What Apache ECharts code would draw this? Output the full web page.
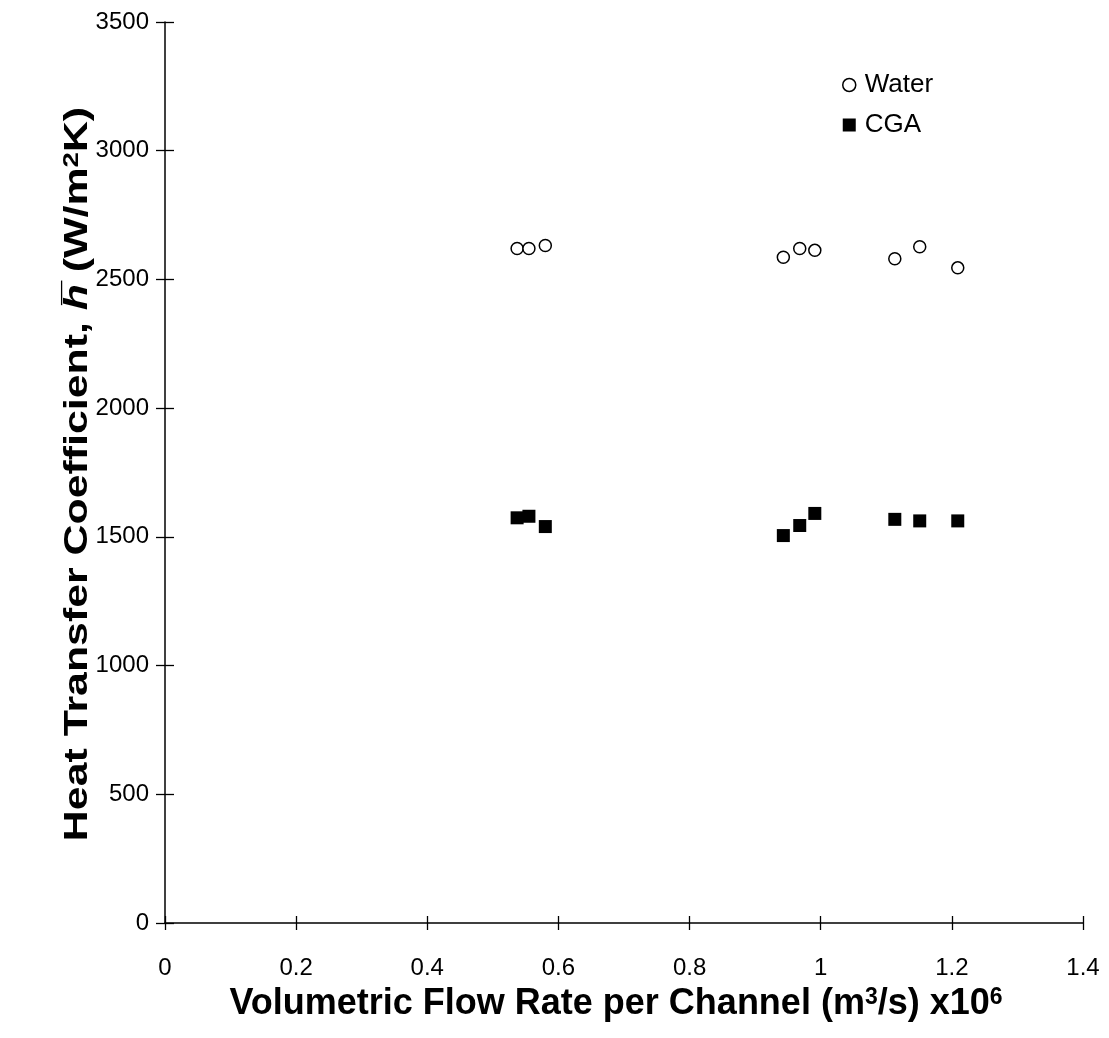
<!DOCTYPE html>
<html>
<head>
<meta charset="utf-8">
<script src="https://cdn.jsdelivr.net/npm/echarts@6/dist/echarts.min.js"></script>
<style>
html,body{margin:0;padding:0;background:#fff;}
#chart{width:1109px;height:1038px;}
</style>
</head>
<body>
<div id="chart"></div>
<script>
// Data
var waterX = [0.537, 0.555, 0.580, 0.943, 0.968, 0.991, 1.113, 1.151, 1.209];
var waterY = [2620, 2620, 2632, 2586, 2620, 2613, 2580, 2627, 2545];
var cgaX   = [0.537, 0.555, 0.580, 0.943, 0.968, 0.991, 1.113, 1.151, 1.209];
var cgaY   = [1574, 1580, 1540, 1505, 1544, 1591, 1568, 1562, 1562];
var seriesNames = ['Water', 'CGA'];
var xTicks = [0, 0.2, 0.4, 0.6, 0.8, 1, 1.2, 1.4];
var yTicks = [0, 500, 1000, 1500, 2000, 2500, 3000, 3500];
var xTitle = 'Volumetric Flow Rate per Channel (m{sup|3}/s) x10{sup|6}';
var yTitle = 'Heat Transfer Coefficient, {h|h\u0305} (W/m{sup|2}K)';

function pairs(xs, ys){ return xs.map(function(x,i){ return [x, ys[i]]; }); }

var FONT = 'Arial, "Liberation Sans", sans-serif';
var chart = echarts.init(document.getElementById('chart'), null, {renderer:'canvas'});

var baseX = {
  type:'value', min:xTicks[0], max:xTicks[xTicks.length-1], interval:0.2,
  splitLine:{show:false}
};
var baseY = {
  type:'value', min:yTicks[0], max:yTicks[yTicks.length-1], interval:500,
  splitLine:{show:false}
};

var option = {
  backgroundColor:'#fff',
  animation:false,
  grid:{left:165, right:26, top:22, bottom:115, containLabel:false},
  legend:{
    orient:'vertical', left:842, top:72, itemGap:14, padding:0,
    itemWidth:13, itemHeight:13,
    textStyle:{fontFamily:FONT, fontSize:26, color:'#000', padding:[0,0,0,4]},
    data:[{name:seriesNames[0], icon:'circle', itemStyle:{color:'#fff', borderColor:'#000', borderWidth:1.5, opacity:1}},
          {name:seriesNames[1], icon:'rect', itemStyle:{color:'#000', opacity:1}}]
  },
  graphic:[{
    type:'text', x:78, y:474, rotation:Math.PI/2, scaleX:1.26, scaleY:1,
    style:{
      text:yTitle, font:'bold 34px ' + FONT, fill:'#000',
      align:'center', verticalAlign:'middle',
      rich:{
        sup:{fontFamily:FONT, fontSize:22, fontWeight:'bold', fill:'#000', verticalAlign:'top', lineHeight:16},
        h:{fontFamily:FONT, fontSize:34, fontWeight:'bold', fontStyle:'italic', fill:'#000'}
      }
    }
  }],
  xAxis:[
    Object.assign({}, baseX, {
      position:'bottom',
      axisLine:{lineStyle:{color:'#000', width:1.5}},
      axisTick:{inside:false, length:7, lineStyle:{color:'#000', width:1.3}},
      axisLabel:{fontFamily:FONT, fontSize:24, color:'#000', margin:33,
        formatter:function(v){ return String(Math.round(v*10)/10); }},
      name:xTitle,
      nameLocation:'middle', nameGap:63, nameMoveOverlap:false,
      nameTextStyle:{fontFamily:FONT, fontSize:36, fontWeight:'bold', color:'#000',
        padding:[0,16,0,0],
        rich:{sup:{fontFamily:FONT, fontSize:23, fontWeight:'bold', color:'#000', verticalAlign:'top', lineHeight:16}}}
    }),
    Object.assign({}, baseX, {
      position:'bottom', axisLine:{show:false},
      axisTick:{inside:true, length:7, lineStyle:{color:'#000', width:1.3}},
      axisLabel:{show:false}
    })
  ],
  yAxis:[
    Object.assign({}, baseY, {
      position:'left',
      axisLine:{show:true, lineStyle:{color:'#000', width:1.5}},
      axisTick:{show:true, inside:false, length:9, lineStyle:{color:'#000', width:1.3}},
      axisLabel:{fontFamily:FONT, fontSize:24, color:'#000', margin:16,
        formatter:function(v){ return String(v); }}
    }),
    Object.assign({}, baseY, {
      position:'left', axisLine:{show:false},
      axisTick:{show:true, inside:true, length:9, lineStyle:{color:'#000', width:1.3}},
      axisLabel:{show:false}
    })
  ],
  series:[
    {
      name:seriesNames[0], type:'scatter', xAxisIndex:0, yAxisIndex:0,
      symbol:'circle', symbolSize:12,
      itemStyle:{color:'#fff', borderColor:'#000', borderWidth:1.5, opacity:1},
      data:pairs(waterX, waterY)
    },
    {
      name:seriesNames[1], type:'scatter', xAxisIndex:0, yAxisIndex:0,
      symbol:'rect', symbolSize:13,
      itemStyle:{color:'#000', opacity:1},
      data:pairs(cgaX, cgaY)
    }
  ]
};
chart.setOption(option);
</script>
</body>
</html>
